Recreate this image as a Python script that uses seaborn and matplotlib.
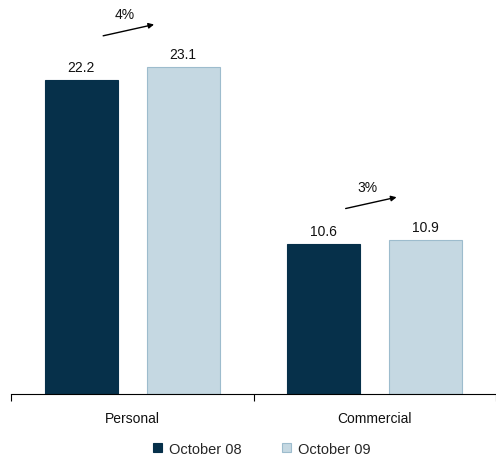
import pandas as pd
import matplotlib.pyplot as plt
import seaborn as sns

# chart values
categories = ['Personal', 'Commercial']
periods = ['October 08', 'October 09']
oct08 = [22.2, 10.6]
oct09 = [23.1, 10.9]
growth = ['4%', '3%']

data = pd.DataFrame({
    'category': categories * 2,
    'period': [periods[0]] * 2 + [periods[1]] * 2,
    'value': oct08 + oct09,
})

sns.set_style('white')
plt.rcParams['font.family'] = ['Liberation Sans', 'DejaVu Sans']

fig = plt.figure(figsize=(4.96, 4.60), dpi=100)
ax = fig.add_axes([11 / 496, 65 / 460, 485 / 496, 395 / 460])

palette = {periods[0]: '#06304a', periods[1]: '#c5d8e2'}
sns.barplot(data=data, x='category', y='value', hue='period', order=categories,
            hue_order=periods, palette=palette, width=0.84, gap=0.28,
            saturation=1, ax=ax, legend=False)

edges = ['#06304a', '#9dbccd']
for cont, ec in zip(ax.containers, edges):
    for bar in cont:
        bar.set_edgecolor(ec)
        bar.set_linewidth(0.8)
    ax.bar_label(cont, fmt='%.1f', padding=4, fontsize=10, color='#111111')

# growth arrows
for i, (a, b, g) in enumerate(zip(oct08, oct09, growth)):
    top = max(a, b)
    ax.annotate('', xy=(i + 0.09, top + 3.0), xytext=(i - 0.12, top + 2.2),
                arrowprops=dict(arrowstyle='-|>', color='black', lw=1,
                                mutation_scale=8, shrinkA=0, shrinkB=0))
    ax.text(i - 0.03, top + 3.75, g, ha='center', va='center', fontsize=10,
            color='#111111')

ax.set_xlim(-0.5, 1.5)
ax.set_ylim(0, 27.9)
ax.set_xlabel('')
ax.set_ylabel('')
ax.set_yticks([])
for s in ['top', 'right', 'left']:
    ax.spines[s].set_visible(False)
ax.spines['bottom'].set_color('black')
ax.spines['bottom'].set_linewidth(0.8)

ax.set_xticks([0, 1])
ax.set_xticklabels(categories, fontsize=10, color='#111111')
ax.tick_params(axis='x', which='major', length=0, pad=12)
ax.set_xticks([-0.5, 0.5, 1.5], minor=True)
ax.tick_params(axis='x', which='minor', length=5, width=0.8, color='black',
               direction='out', bottom=True)

handles = [plt.Rectangle((0, 0), 1, 1, facecolor=palette[p], edgecolor=e, lw=0.8)
           for p, e in zip(periods, edges)]
fig.legend(handles, periods, loc='center', bbox_to_anchor=(262 / 496, 1 - 450 / 460),
           ncol=2, frameon=False, fontsize=10.5, handlelength=0.6, handleheight=0.6,
           handletextpad=0.5, columnspacing=2.8)

fig.savefig('out.png', dpi=100)
